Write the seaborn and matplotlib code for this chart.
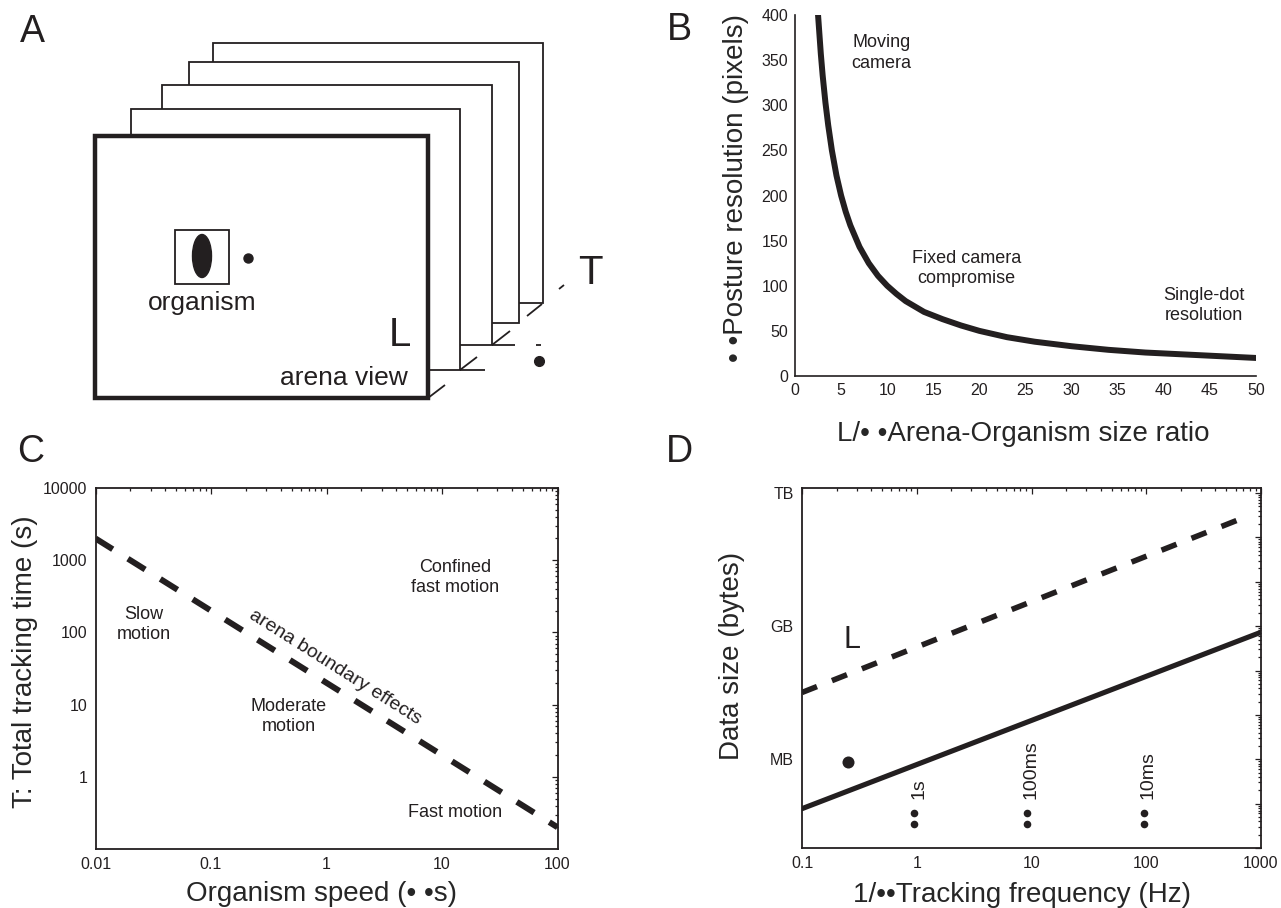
import matplotlib
matplotlib.use("Agg")
import math
import matplotlib.pyplot as plt
import matplotlib.ticker as mticker
from matplotlib.patches import Ellipse, Rectangle
import seaborn as sns

INK = "#231f20"
W, H = 1281, 908

# panel A: stacked frames (left, top, right, bottom) in figure pixels, back to front
frame_boxes = [
    (213, 43, 543, 303),
    (189, 62, 519, 323),
    (162, 85, 492, 345),
    (131, 109, 460, 370),
    (95, 136, 428, 398),
]
depth_marks = [
    ((428, 398), (445, 385)),
    ((460, 370), (485, 370)),
    ((460, 370), (477, 357)),
    ((492, 345), (515, 345)),
    ((492, 345), (510, 331)),
    ((527, 316), (542, 304)),
    ((559, 289), (564, 285)),
    ((536, 345), (541, 345)),
]
organism_box = (175, 230, 229, 284)

# panel B: posture resolution vs arena/organism size ratio
size_ratio = [2.5, 2.8, 3, 3.3, 3.6, 4, 4.5, 5, 5.5, 6, 7, 8, 9, 10, 11, 12,
              14, 16, 18, 20, 23, 26, 30, 34, 38, 42, 46, 50]
posture_px = [400, 357, 333, 303, 278, 250, 222, 200, 182, 167, 143, 125, 111,
              100, 91, 83, 71, 63, 56, 50, 43, 38, 33, 29, 26, 24, 22, 20]
b_notes = ["Moving\ncamera", "Fixed camera\ncompromise", "Single-dot\nresolution"]
b_note_x = [9.4, 18.6, 44.3]
b_note_y = [358, 119, 78]

# panel C: tracking time vs organism speed
speed = [0.01, 100]
boundary_time = [2000, 0.2]
c_notes = ["Confined\nfast motion", "Slow\nmotion", "Moderate\nmotion", "Fast motion"]
c_note_x = [12.9, 0.026, 0.47, 12.9]
c_note_y = [570, 130, 6.9, 0.32]

# panel D: data size vs tracking frequency
freq_solid = [0.1, 1000]
size_solid = [7.7e4, 7.3e8]
freq_dashed = [0.1, 760]
size_dashed = [3.2e7, 3.0e11]
period_x = [0.94, 9.1, 95, 0.94, 9.1, 95]
period_y = [6.3e4, 6.3e4, 6.3e4, 3.4e4, 3.4e4, 3.4e4]
period_labels = ["1s", "100ms", "10ms"]
period_label_x = [1.05, 9.9, 103]
size_labels = {6: "MB", 9: "GB", 12: "TB"}

LOG_SUBS = [2, 3, 4, 5, 6, 7, 8, 9]


def axes_rect(left, top, right, bottom):
    return [left / W, 1 - bottom / H, (right - left) / W, (bottom - top) / H]


def style_box(ax):
    for side in ax.spines.values():
        side.set_linewidth(1.3)
        side.set_color(INK)
    ax.tick_params(which="both", direction="in", top=True, right=True,
                   colors=INK, labelsize=11.5, width=0.9)
    ax.tick_params(which="major", length=4, pad=6)
    ax.tick_params(which="minor", length=2)
    for axis in (ax.xaxis, ax.yaxis):
        axis.set_minor_locator(mticker.LogLocator(base=10, subs=LOG_SUBS, numticks=100))
        axis.set_minor_formatter(mticker.NullFormatter())


sns.set_style("white")
plt.rcParams["font.family"] = ["Liberation Sans", "DejaVu Sans"]
plt.rcParams["text.color"] = INK

fig = plt.figure(figsize=(W / 100, H / 100), dpi=100)

# ---- panel A (diagram in pixel space)
ax_a = fig.add_axes([0, 0, 1, 1], zorder=0)
ax_a.set_xlim(0, W)
ax_a.set_ylim(H, 0)
ax_a.set_axis_off()
for i, (l, t, r, b) in enumerate(frame_boxes):
    front = i == len(frame_boxes) - 1
    ax_a.add_patch(Rectangle((l, t), r - l, b - t, facecolor="white", edgecolor=INK,
                             linewidth=3.2 if front else 1.3, zorder=2 + i))
for (x0, y0), (x1, y1) in depth_marks:
    ax_a.plot([x0, x1], [y0, y1], color=INK, lw=1.3, zorder=1, solid_capstyle="butt")
l, t, r, b = organism_box
ax_a.add_patch(Rectangle((l, t), r - l, b - t, facecolor="white", edgecolor=INK,
                         linewidth=1.3, zorder=10))
ax_a.add_patch(Ellipse(((l + r) / 2, (t + b) / 2 - 1), 19, 43, color=INK, zorder=11))
ax_a.plot([248], [258], "o", color=INK, ms=6.5, zorder=11)
ax_a.plot([539], [361], "o", color=INK, ms=7, zorder=11)
ax_a.text(202, 303, "organism", fontsize=19, ha="center", va="center", zorder=12)
ax_a.text(344, 378, "arena view", fontsize=19, ha="center", va="center", zorder=12)
ax_a.text(400, 335, "L", fontsize=29, ha="center", va="center", zorder=12)
ax_a.text(590, 273, "T", fontsize=29, ha="center", va="center", zorder=12)
for letter, (px, py) in zip("ABCD", [(32, 32), (679, 30), (31, 452), (679, 452)]):
    ax_a.text(px, py, letter, fontsize=27, ha="center", va="center")

# ---- panel B
ax_b = fig.add_axes(axes_rect(795, 15, 1256, 376), zorder=2)
sns.lineplot(x=size_ratio, y=posture_px, ax=ax_b, color=INK, lw=4.3)
ax_b.set_xlim(0, 50)
ax_b.set_ylim(0, 400)
ax_b.set_xticks(range(0, 51, 5))
ax_b.set_yticks(range(0, 401, 50))
sns.despine(ax=ax_b)
for side in ["left", "bottom"]:
    ax_b.spines[side].set_linewidth(1.2)
    ax_b.spines[side].set_color(INK)
ax_b.tick_params(direction="in", length=4, width=0.9, colors=INK, labelsize=11.5, pad=5)
for txt, x, y in zip(b_notes, b_note_x, b_note_y):
    ax_b.text(x, y, txt, fontsize=13, ha="center", va="center", linespacing=1.25)
ax_b.set_xlabel("L/\u2022 \u2022Arena-Organism size ratio", fontsize=20, va="top")
ax_b.xaxis.set_label_coords(0.495, -0.125)
ax_b.set_ylabel("\u2022 \u2022Posture resolution (pixels)", fontsize=20)
ax_b.yaxis.set_label_coords(-0.10, 0.52)

# ---- panel C
ax_c = fig.add_axes(axes_rect(95.5, 488, 557.5, 849), zorder=2)
ax_c.set_xscale("log")
ax_c.set_yscale("log")
sns.lineplot(x=speed, y=boundary_time, ax=ax_c, color=INK, lw=4.3,
             linestyle=(0, (3.4, 3.0)))
ax_c.set_xlim(0.01, 100)
ax_c.set_ylim(0.1, 10000)
ax_c.xaxis.set_major_locator(mticker.FixedLocator([0.01, 0.1, 1, 10, 100]))
ax_c.yaxis.set_major_locator(mticker.FixedLocator([1, 10, 100, 1000, 10000]))
ax_c.xaxis.set_major_formatter(mticker.FuncFormatter(lambda v, p: f"{v:g}"))
ax_c.yaxis.set_major_formatter(mticker.FuncFormatter(lambda v, p: f"{v:g}"))
style_box(ax_c)
for txt, x, y in zip(c_notes, c_note_x, c_note_y):
    ax_c.text(x, y, txt, fontsize=13, ha="center", va="center", linespacing=1.25)
ax_c.text(1.19, 33, "arena boundary effects", fontsize=14, rotation=-32.3,
          rotation_mode="anchor", ha="center", va="center")
ax_c.set_xlabel("Organism speed (\u2022 \u2022s)", fontsize=20, va="top")
ax_c.xaxis.set_label_coords(0.49, -0.09)
ax_c.set_ylabel("T: Total tracking time (s)", fontsize=20)
ax_c.yaxis.set_label_coords(-0.125, 0.52)

# ---- panel D
ax_d = fig.add_axes(axes_rect(802, 488, 1261, 848), zorder=2)
ax_d.set_xscale("log")
ax_d.set_yscale("log")
sns.lineplot(x=freq_solid, y=size_solid, ax=ax_d, color=INK, lw=3.7)
sns.lineplot(x=freq_dashed, y=size_dashed, ax=ax_d, color=INK, lw=4.0,
             linestyle=(0, (2.9, 2.9)))
sns.scatterplot(x=period_x, y=period_y, ax=ax_d, color=INK, s=30, linewidth=0)
sns.scatterplot(x=[0.25], y=[8.6e5], ax=ax_d, color=INK, s=75, linewidth=0)
for txt, x in zip(period_labels, period_label_x):
    ax_d.text(x, 1.3e5, txt, fontsize=14, rotation=90, ha="center", va="bottom")
ax_d.text(0.274, 4.9e8, "L", fontsize=22, ha="center", va="center")
ax_d.set_xlim(0.1, 1000)
ax_d.set_ylim(1e4, 1.3e12)
ax_d.xaxis.set_major_locator(mticker.FixedLocator([0.1, 1, 10, 100, 1000]))
ax_d.yaxis.set_major_locator(mticker.FixedLocator([10.0 ** k for k in range(4, 13)]))
ax_d.xaxis.set_major_formatter(mticker.FuncFormatter(lambda v, p: f"{v:g}"))
ax_d.yaxis.set_major_formatter(mticker.FuncFormatter(
    lambda v, p: size_labels.get(int(round(math.log10(v))), "")))
style_box(ax_d)
ax_d.set_xlabel("1/\u2022\u2022Tracking frequency (Hz)", fontsize=20, va="top")
ax_d.xaxis.set_label_coords(0.48, -0.094)
ax_d.set_ylabel("Data size (bytes)", fontsize=20)
ax_d.yaxis.set_label_coords(-0.125, 0.533)

fig.savefig("out.png", dpi=100)
